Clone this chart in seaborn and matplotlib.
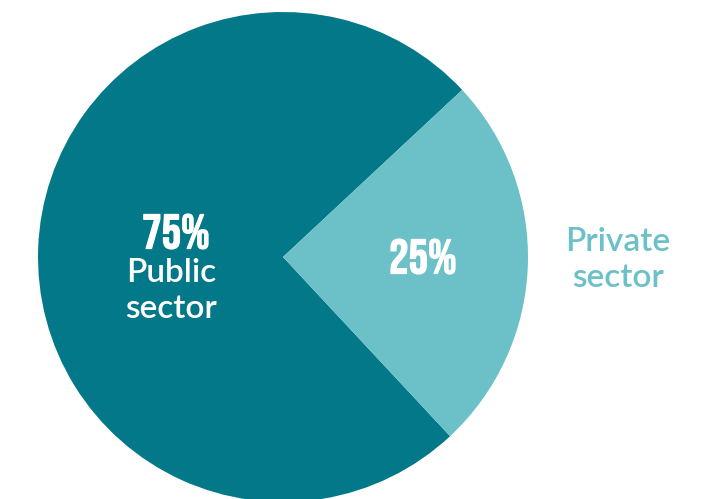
import matplotlib
matplotlib.use("Agg")
import matplotlib.pyplot as plt
import matplotlib.patheffects as pe
import seaborn as sns

# data
sectors = ["Public sector", "Private sector"]
shares = [75, 25]
pct_labels = ["75%", "25%"]

dark_teal = "#027888"
light_teal = "#6bc1c7"

sns.set_theme(style="white")
plt.rcParams['font.family'] = ['Lato', 'DejaVu Sans']

fig = plt.figure(figsize=(7.08, 4.99), dpi=100)
ax = fig.add_axes([0, 0, 1, 1])

# work in pixel units so the pie sits where it does in the original
cx, cy, r = 283, 499 - 257, 245
ax.pie(shares, colors=[dark_teal, light_teal], startangle=43, counterclock=True,
       center=(cx, cy), radius=r, wedgeprops=dict(linewidth=0))
ax.set_xlim(0, 708)
ax.set_ylim(0, 499)
ax.set_aspect("equal")
ax.axis("off")

# condensed, heavy numbers: Bebas Neue thickened with a thin stroke
bold = [pe.withStroke(linewidth=0.9, foreground="white")]
num_font = dict(family=['Bebas Neue', 'DejaVu Sans'], fontsize=35,
                color="white", ha="center", va="center", path_effects=bold)
ax.text(176, 499 - 231, pct_labels[0], **num_font)
ax.text(423, 499 - 256, pct_labels[1], **num_font)

lbl_font = dict(fontsize=24, fontweight=600, ha="center", va="center", linespacing=1.22)
ax.text(171, 499 - 291, sectors[0].replace(" ", "\n"), color="white", **lbl_font)
ax.text(618, 499 - 260, sectors[1].replace(" ", "\n"), color=light_teal, **lbl_font)

fig.savefig("out.png", dpi=100)
